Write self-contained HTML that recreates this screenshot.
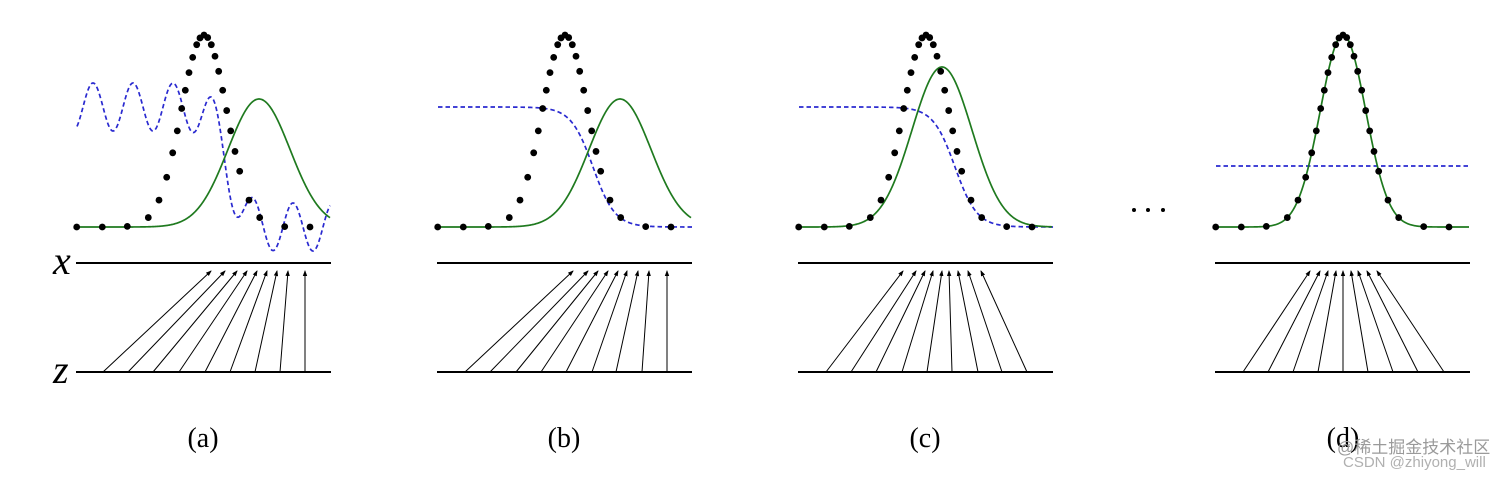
<!DOCTYPE html>
<html><head><meta charset="utf-8"><style>
html,body{margin:0;padding:0;background:#fff;width:1512px;height:477px;overflow:hidden}
svg{display:block}
</style></head><body>
<svg id="s" width="1512" height="477" xmlns="http://www.w3.org/2000/svg">
<defs><marker id="ah" markerWidth="6" markerHeight="6" refX="5" refY="3" orient="auto" markerUnits="userSpaceOnUse"><path d="M0,0.8 L6,3 L0,5.2 Z" fill="#000"/></marker></defs>
<g id="g"></g>
<text x="53" y="274" font-family="Liberation Serif, serif" font-style="italic" font-size="40">x</text>
<text x="53" y="383" font-family="Liberation Serif, serif" font-style="italic" font-size="40">z</text>
<text x="203" y="447" text-anchor="middle" font-family="Liberation Serif, serif" font-size="28">(a)</text>
<text x="564" y="447" text-anchor="middle" font-family="Liberation Serif, serif" font-size="28">(b)</text>
<text x="925" y="447" text-anchor="middle" font-family="Liberation Serif, serif" font-size="28">(c)</text>
<text x="1343" y="447" text-anchor="middle" font-family="Liberation Serif, serif" font-size="28">(d)</text>
<circle cx="1134" cy="210" r="2" fill="#000"/><circle cx="1148" cy="210" r="2" fill="#000"/><circle cx="1163" cy="210" r="2" fill="#000"/>
<text x="1337" y="453" font-family="Liberation Sans, Noto Sans CJK SC, sans-serif" font-size="17" fill="#9a9a9a">@稀土掘金技术社区</text>
<text x="1343" y="467" font-family="Liberation Sans, sans-serif" font-size="15" fill="#b0b0b0">CSDN @zhiyong_will</text>
</svg>
<script>
var g=document.getElementById('g'),NS='http://www.w3.org/2000/svg';
function el(t,a){var e=document.createElementNS(NS,t);for(var k in a)e.setAttribute(k,a[k]);g.appendChild(e);return e;}
function path(f,x0,x1,st){var d='';for(var x=x0;x<=x1+0.01;x+=0.5){d+=(d?'L':'M')+x.toFixed(1)+','+f(x).toFixed(2);}el('path',Object.assign({d:d,fill:'none'},st));}
var green={stroke:'#1f7a1f','stroke-width':1.7};
var blue={stroke:'#2a2ad0','stroke-width':1.7,'stroke-dasharray':'4.5,3'};
var dxs=[-127.3,-101.7,-76.7,-55.7,-45,-37.3,-31.3,-26.7,-22.3,-18.7,-15,-11.3,-7.3,-4,0,3.7,7.3,11,14.7,18.7,22.7,26.7,31,35.7,45,55.7,80.7,106];
function gy(dx){return 227-192*Math.exp(-dx*dx/(2*22.7*22.7));}
var panels=[
 {o:0,peak:204,gc:259,gh:128,gs:31,blue:function(x){var b=107+120/(1+Math.exp(-(x-228)/8));return b-24*Math.cos(2*Math.PI*(x-93)/40);},bx:[77,330],
  zs:[103,128,153,179,205,230,255,280,305],xt:[211,225,237,247,257,267,277,288,305]},
 {o:361,peak:565,gc:620,gh:128,gs:31,blue:function(x){return 107+120/(1+Math.exp(-(x-593)/11));},bx:[438,692],
  zs:[465,490,516,541,566,592,616,642,667],xt:[573,588,598,608,618,627,638,649,667]},
 {o:722,peak:926,gc:942,gh:160,gs:30,blue:function(x){return 107+120/(1+Math.exp(-(x-955)/11));},bx:[799,1054],
  zs:[826,851,876,902,927,952,978,1002,1027],xt:[903,916,925,933,942,949,958,968,981]},
 {o:1139,peak:1343,gc:1343,gh:192,gs:22.7,blue:function(x){return 166;},bx:[1216,1470],
  zs:[1243,1268,1293,1318,1343,1368,1393,1418,1444],xt:[1310,1320,1328,1336,1343,1351,1358,1367,1377]}
];
panels.forEach(function(p){
 var L=76+p.o,R=331+p.o; if(p.o==1139){L=1215;R=1470;}
 el('line',{x1:L,y1:263,x2:R,y2:263,stroke:'#000','stroke-width':2});
 el('line',{x1:L,y1:372,x2:R,y2:372,stroke:'#000','stroke-width':2});
 for(var i=0;i<p.zs.length;i++){
  el('line',{x1:p.zs[i],y1:372,x2:p.xt[i],y2:271,stroke:'#000','stroke-width':1,'marker-end':'url(#ah)'});
 }
 path(function(x){return p.blue(x);},p.bx[0],p.bx[1],blue);
 path(function(x){var d=x-p.gc;return 227-p.gh*Math.exp(-d*d/(2*p.gs*p.gs));},L+1,R-1,green);
 dxs.forEach(function(d){el('circle',{cx:p.peak+d,cy:gy(d),r:3.4,fill:'#000'});});
});
</script>
</body></html>
